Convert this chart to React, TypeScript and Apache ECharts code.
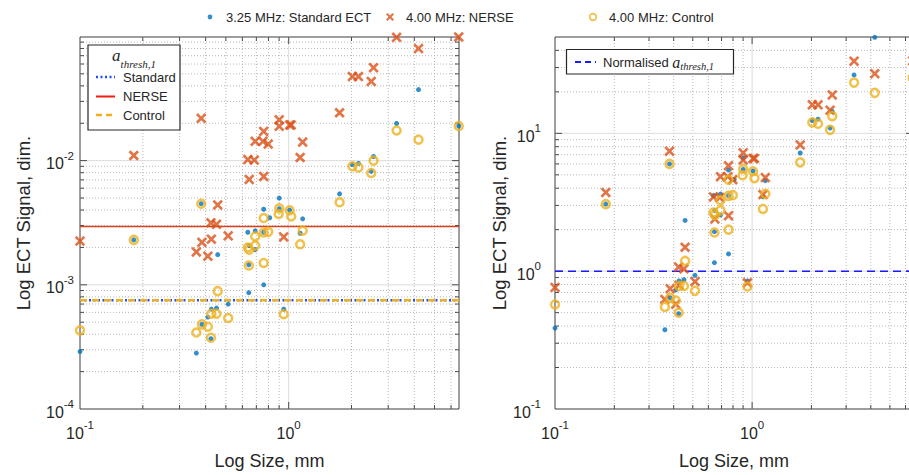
import React, { useEffect, useRef } from 'react';
import * as echarts from 'echarts';

// ---------- data ----------
const standardSize = [0.1, 0.181, 0.361, 0.381, 0.384, 0.41, 0.424, 0.426, 0.451, 0.457, 0.513, 0.637, 0.644, 0.644, 0.647, 0.691, 0.691, 0.759, 0.759, 0.759, 0.811, 0.901, 0.901, 0.947, 1.011, 1.135, 1.167, 1.754, 2.02, 2.16, 2.487, 2.55, 3.29, 4.19, 6.53];
const standardSignal = [2.9e-4, 2.3e-3, 2.82e-4, 4.5e-3, 4.8e-4, 5.5e-4, 3.68e-4, 6.37e-4, 6.5e-4, 1.75e-3, 7.0e-4, 2.65e-3, 8.64e-4, 1.45e-3, 2.07e-3, 1.92e-3, 2.72e-3, 1.0e-3, 4.06e-3, 2.65e-3, 3.47e-3, 4.99e-3, 4.1e-3, 6.37e-4, 4.0e-3, 2.6e-3, 3.4e-3, 5.4e-3, 9.3e-3, 9.5e-3, 8.2e-3, 0.0108, 0.0199, 0.0373, 0.019];

const nerseSize = [0.1, 0.181, 0.361, 0.381, 0.384, 0.41, 0.424, 0.426, 0.451, 0.457, 0.513, 0.637, 0.647, 0.684, 0.691, 0.753, 0.759, 0.759, 0.798, 0.901, 0.901, 0.947, 1.011, 1.028, 1.135, 1.167, 1.754, 2.02, 2.16, 2.487, 2.55, 3.29, 4.19, 6.53];
const nerseSignal = [2.25e-3, 0.011, 1.84e-3, 0.0219, 2.2e-3, 1.7e-3, 3.16e-3, 2.33e-3, 3.07e-3, 4.4e-3, 2.48e-3, 0.0102, 7.06e-3, 0.0101, 0.0143, 0.0143, 0.0172, 7.45e-3, 0.0136, 0.0213, 0.0189, 2.43e-3, 0.0194, 0.0194, 0.0106, 0.0141, 0.0243, 0.0475, 0.0475, 0.0434, 0.056, 0.0985, 0.0799, 0.099];

const controlSize = [0.1, 0.181, 0.361, 0.381, 0.384, 0.41, 0.424, 0.426, 0.451, 0.457, 0.513, 0.637, 0.644, 0.647, 0.691, 0.691, 0.759, 0.759, 0.759, 0.798, 0.895, 0.901, 0.947, 1.011, 1.028, 1.135, 1.167, 1.754, 2.02, 2.16, 2.487, 2.55, 3.29, 4.19, 6.53];
const controlSignal = [4.3e-4, 2.3e-3, 4.13e-4, 4.5e-3, 4.8e-4, 4.6e-4, 3.75e-4, 5.85e-4, 5.85e-4, 8.9e-4, 5.4e-4, 2.0e-3, 1.43e-3, 1.92e-3, 2.07e-3, 2.45e-3, 1.5e-3, 2.64e-3, 3.45e-3, 2.67e-3, 3.72e-3, 4.13e-3, 5.8e-4, 3.98e-3, 3.55e-3, 2.12e-3, 2.73e-3, 4.62e-3, 9.0e-3, 8.8e-3, 7.95e-3, 0.01, 0.0175, 0.01475, 0.019];

// a_thresh,1 per technique
const standardThreshold = 7.5e-4;
const nerseThreshold = 2.95e-3;
const controlThreshold = 7.5e-4;
const normalisedThreshold = 1;

const seriesNames = ['3.25 MHz: Standard ECT', '4.00 MHz: NERSE', '4.00 MHz: Control'];
const xRange = [0.1, 6.55];
const leftYRange = [1e-4, 0.099];
const rightYRange = [0.1, 50];

// ---------- styling ----------
const FONT = '"Liberation Sans", Arial, Helvetica, sans-serif';
const SERIF = '"Liberation Serif", "Times New Roman", serif';
const INK = '#262626';
const BLUE = '#0072BD';
const RED = '#D95319';
const ORANGE = '#EDB120';

function xPath(s: number, a: number, off = 0, box = 0) {
  const h = s / 2;
  const pts = [[0, a], [a, 0], [h, h - a], [s - a, 0], [s, a], [h + a, h], [s, s - a], [s - a, s], [h, h + a], [a, s], [0, s - a], [h - a, h]];
  let d = 'M' + pts.map(([x, y]) => `${(x + off).toFixed(2)},${(y + off).toFixed(2)}`).join('L') + 'Z';
  if (box) d = `M0,0L0.01,0L0,0.01Z M${box},${box}L${box - 0.01},${box}L${box},${box - 0.01}Z ` + d;
  return 'path://' + d;
}
const X_SYMBOL = xPath(10, 1.8);
const LEG_X = xPath(8, 1.45, 3, 14);
const LEG_DOT = 'path://M0,0L0.01,0L0,0.01Z M14,14L13.99,14L14,13.99Z M4.6,7A2.4,2.4 0 1 1 9.4,7A2.4,2.4 0 1 1 4.6,7Z';
const LEG_RING = 'path://M0,0L0.01,0L0,0.01Z M14,14L13.99,14L14,13.99Z M2.8,7A4.2,4.2 0 1 1 11.2,7A4.2,4.2 0 1 1 2.8,7Z M4.5,7A2.5,2.5 0 1 0 9.5,7A2.5,2.5 0 1 0 4.5,7Z';

const zip = (xs: number[], ys: number[], div = 1) => xs.map((x, i) => [x, ys[i] / div]);

function decadeTicks(lo: number, hi: number) {
  const out: number[][] = [];
  const e0 = Math.floor(Math.log10(lo) + 1e-9);
  const e1 = Math.ceil(Math.log10(hi) - 1e-9);
  for (let e = e0; e <= e1; e++) {
    for (let m = 1; m <= 9; m++) {
      const v = m * Math.pow(10, e);
      if (v > lo * 1.0001 && v < hi * 0.9999) out.push([v, m === 1 ? 1 : 0]);
    }
  }
  return out;
}

function gridItems(xr: number[], yr: number[]) {
  const items: number[][] = [];
  decadeTicks(xr[0], xr[1]).forEach(([v, major]) => items.push([v, yr[0], major]));
  decadeTicks(yr[0], yr[1]).forEach(([v, major]) => items.push([xr[0], v, 2 + major]));
  return items;
}

const renderGrid = (params: any, api: any) => {
  const kind = api.value(2);
  const cs = params.coordSys;
  const p = api.coord([api.value(0), api.value(1)]);
  const major = kind === 1 || kind === 3;
  const gridStyle = major
    ? { stroke: '#dcdcdc', lineWidth: 1 }
    : { stroke: '#b8b8b8', lineWidth: 1, lineDash: [1, 2] };
  const tickStyle = { stroke: '#4a4a4a', lineWidth: 1 };
  const t = major ? 7 : 4;
  const children: any[] = [];
  if (kind < 2) {
    const x = p[0];
    children.push({ type: 'line', shape: { x1: x, y1: cs.y, x2: x, y2: cs.y + cs.height }, style: gridStyle });
    children.push({ type: 'line', shape: { x1: x, y1: cs.y + cs.height, x2: x, y2: cs.y + cs.height - t }, style: tickStyle });
    children.push({ type: 'line', shape: { x1: x, y1: cs.y, x2: x, y2: cs.y + t }, style: tickStyle });
  } else {
    const y = p[1];
    children.push({ type: 'line', shape: { x1: cs.x, y1: y, x2: cs.x + cs.width, y2: y }, style: gridStyle });
    children.push({ type: 'line', shape: { x1: cs.x, y1: y, x2: cs.x + t, y2: y }, style: tickStyle });
    children.push({ type: 'line', shape: { x1: cs.x + cs.width, y1: y, x2: cs.x + cs.width - t, y2: y }, style: tickStyle });
  }
  return { type: 'group', children };
};

const powerLabel = (v: number) => {
  const e = Math.log10(v);
  const r = Math.round(e);
  if (Math.abs(e - r) > 1e-6) return '';
  return `{b|10}{s|${r}}`;
};
const labelRich = {
  b: { fontFamily: FONT, fontSize: 16, color: INK, lineHeight: 22, verticalAlign: 'bottom' },
  s: { fontFamily: FONT, fontSize: 11.5, color: INK, lineHeight: 12, verticalAlign: 'top' },
};

function xAxisOpt(gridIndex: number) {
  return {
    type: 'log', logBase: 10, gridIndex, min: xRange[0], max: xRange[1],
    name: 'Log Size, mm', nameLocation: 'middle', nameGap: 43,
    nameTextStyle: { fontFamily: FONT, fontSize: 18, color: INK },
    axisLine: { show: false }, axisTick: { show: false }, splitLine: { show: false },
    axisLabel: { formatter: powerLabel, rich: labelRich, margin: 10, showMaxLabel: false },
  };
}
function yAxisOpt(gridIndex: number, yr: number[], nameGap: number, margin: number) {
  return {
    type: 'log', logBase: 10, gridIndex, min: yr[0], max: yr[1],
    name: 'Log ECT Signal, dim.', nameLocation: 'middle', nameGap, nameRotate: 90,
    nameTextStyle: { fontFamily: FONT, fontSize: 18.5, color: INK },
    axisLine: { show: false }, axisTick: { show: false }, splitLine: { show: false },
    axisLabel: { formatter: powerLabel, rich: labelRich, margin, showMaxLabel: false },
  };
}

function scatterSet(gridIndex: number, divs: number[], tag: string) {
  const [dStd, dNer, dCtl] = divs;
  return [
    {
      id: 'std-' + tag, name: seriesNames[0], type: 'scatter', xAxisIndex: gridIndex, yAxisIndex: gridIndex,
      data: zip(standardSize, standardSignal, dStd), symbol: 'circle', symbolSize: 5,
      itemStyle: { color: BLUE }, z: 3,
    },
    {
      id: 'nerse-' + tag, name: seriesNames[1], type: 'scatter', xAxisIndex: gridIndex, yAxisIndex: gridIndex,
      data: zip(nerseSize, nerseSignal, dNer), symbol: X_SYMBOL, symbolSize: 10.5,
      itemStyle: { color: RED }, z: 4,
    },
    {
      id: 'ctl-' + tag, name: seriesNames[2], type: 'scatter', xAxisIndex: gridIndex, yAxisIndex: gridIndex,
      data: zip(controlSize, controlSignal, dCtl), symbol: 'circle', symbolSize: 8,
      itemStyle: { color: 'rgba(0,0,0,0)', borderColor: ORANGE, borderWidth: 2.5 }, z: 5,
    },
  ];
}

// horizontal threshold line drawn through the axes' scales
const thresholdLine = (id: string, gridIndex: number, y: number, color: string, type: any, width: number, z: number) => ({
  id, type: 'line', xAxisIndex: gridIndex, yAxisIndex: gridIndex, silent: true, z,
  showSymbol: false, symbol: 'none',
  data: [[xRange[0], y], [xRange[1], y]],
  lineStyle: { color, type, width },
});

const legendBase = (left: number, item: any) => ({
  top: 5, left, itemWidth: 14, itemHeight: 14, selectedMode: false,
  textStyle: { fontFamily: FONT, fontSize: 13, color: INK, padding: [0, 0, 0, 4] },
  data: [item],
});

export default function App() {
  const ref = useRef<HTMLDivElement>(null);
  useEffect(() => {
    if (!ref.current) return;
    const chart = echarts.init(ref.current, undefined, { renderer: 'svg' });
    chart.setOption({
      animation: false,
      backgroundColor: '#ffffff',
      textStyle: { fontFamily: FONT },
      grid: [
        { left: 80, top: 37, width: 379, height: 378, show: true, borderColor: '#3c3c3c', borderWidth: 1, backgroundColor: 'transparent' },
        { left: 555, top: 37, width: 358, height: 378, show: true, borderColor: '#3c3c3c', borderWidth: 1, backgroundColor: 'transparent' },
      ],
      legend: [
        legendBase(198, { name: seriesNames[0], icon: LEG_DOT, itemStyle: { color: BLUE, borderWidth: 0 } }),
        legendBase(378, { name: seriesNames[1], icon: LEG_X, itemStyle: { color: RED, borderWidth: 0 } }),
        legendBase(581, { name: seriesNames[2], icon: LEG_RING, itemStyle: { color: ORANGE, borderWidth: 0, borderColor: 'rgba(0,0,0,0)' } }),
      ],
      xAxis: [xAxisOpt(0), xAxisOpt(1)],
      yAxis: [yAxisOpt(0, leftYRange, 47, 6), yAxisOpt(1, rightYRange, 36, 14)],
      series: [
        {
          id: 'grid-left', type: 'custom', xAxisIndex: 0, yAxisIndex: 0, silent: true, z: 1,
          data: gridItems(xRange, leftYRange), renderItem: renderGrid, encode: { x: 0, y: 1 },
        },
        {
          id: 'grid-right', type: 'custom', xAxisIndex: 1, yAxisIndex: 1, silent: true, z: 1,
          data: gridItems(xRange, rightYRange), renderItem: renderGrid, encode: { x: 0, y: 1 },
        },
        thresholdLine('thr-nerse', 0, nerseThreshold, '#d8401e', 'solid', 1.5, 2),
        thresholdLine('thr-std', 0, standardThreshold, '#1f4fff', [2, 2.5], 2.5, 2),
        thresholdLine('thr-ctl', 0, controlThreshold, ORANGE, [7, 5], 2.5, 2),
        thresholdLine('thr-norm', 1, normalisedThreshold, '#1a1aff', [8, 5], 1.5, 2),
        ...scatterSet(0, [1, 1, 1], 'left'),
        ...scatterSet(1, [standardThreshold, nerseThreshold, controlThreshold], 'right'),
      ],
      graphic: [
        // left inner legend
        { type: 'rect', z: 100, shape: { x: 88, y: 45, width: 92, height: 85 }, style: { fill: '#fff', stroke: INK, lineWidth: 1.2 } },
        {
          type: 'text', z: 101, x: 134, y: 58,
          style: {
            text: '{a|a}{s|thresh,1}', align: 'center', verticalAlign: 'middle',
            rich: {
              a: { fontFamily: SERIF, fontStyle: 'italic', fontSize: 17, lineHeight: 22, verticalAlign: 'top', fill: INK },
              s: { fontFamily: SERIF, fontStyle: 'italic', fontSize: 11, lineHeight: 12, verticalAlign: 'bottom', fill: INK },
            },
          },
        },
        { type: 'line', z: 101, shape: { x1: 96, y1: 77, x2: 115, y2: 77 }, style: { stroke: '#1f4fff', lineWidth: 2.5, lineDash: [2, 2.5] } },
        { type: 'text', z: 101, x: 123, y: 77, style: { text: 'Standard', fontFamily: FONT, fontSize: 13, fill: INK, verticalAlign: 'middle' } },
        { type: 'line', z: 101, shape: { x1: 96, y1: 96.5, x2: 115, y2: 96.5 }, style: { stroke: '#f01e12', lineWidth: 2 } },
        { type: 'text', z: 101, x: 123, y: 96.5, style: { text: 'NERSE', fontFamily: FONT, fontSize: 13, fill: INK, verticalAlign: 'middle' } },
        { type: 'line', z: 101, shape: { x1: 96, y1: 115, x2: 115, y2: 115 }, style: { stroke: ORANGE, lineWidth: 2.5, lineDash: [6, 4] } },
        { type: 'text', z: 101, x: 123, y: 115, style: { text: 'Control', fontFamily: FONT, fontSize: 13, fill: INK, verticalAlign: 'middle' } },
        // right inner legend
        { type: 'rect', z: 100, shape: { x: 566.5, y: 49.5, width: 167, height: 24.5 }, style: { fill: '#fff', stroke: INK, lineWidth: 1.2 } },
        { type: 'line', z: 101, shape: { x1: 575, y1: 62, x2: 596, y2: 62 }, style: { stroke: '#1a1aff', lineWidth: 2, lineDash: [6, 4] } },
        {
          type: 'text', z: 101, x: 603, y: 62,
          style: {
            text: '{n|Normalised }{a|a}{s|thresh,1}', verticalAlign: 'middle',
            rich: {
              n: { fontFamily: FONT, fontSize: 13, lineHeight: 20, verticalAlign: 'middle', fill: INK },
              a: { fontFamily: SERIF, fontStyle: 'italic', fontSize: 16, lineHeight: 20, verticalAlign: 'middle', fill: INK },
              s: { fontFamily: SERIF, fontStyle: 'italic', fontSize: 10.5, lineHeight: 12, verticalAlign: 'bottom', fill: INK },
            },
          },
        },
      ],
    });
    return () => chart.dispose();
  }, []);
  return (
    <div style={{ position: 'fixed', left: 0, top: 0, width: 909, height: 475, overflow: 'hidden', background: '#fff' }}>
      <div ref={ref} style={{ width: 920, height: 475 }} />
    </div>
  );
}
